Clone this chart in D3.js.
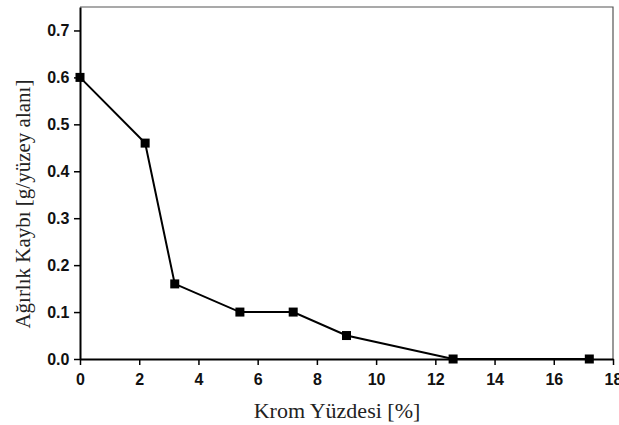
<!DOCTYPE html>
<html>
<head>
<meta charset="utf-8">
<script src="https://cdn.jsdelivr.net/npm/d3@7"></script>
<style>
  body { margin: 0; background: #fff; }
  .tick text { font-family: "Liberation Sans Narrow", "Liberation Sans", Arial, sans-serif; font-size: 16px; font-weight: bold; fill: #111; }
</style>
</head>
<body>
<div id="chart"></div>
<script>
// chrome content (%) vs weight loss
const chromePct = [0, 2.2, 3.2, 5.4, 7.2, 9.0, 12.6, 17.2];
const weightLoss = [0.60, 0.46, 0.16, 0.10, 0.10, 0.05, 0.0, 0.0];
const xTicks = [0, 2, 4, 6, 8, 10, 12, 14, 16, 18];
const yTicks = [0.0, 0.1, 0.2, 0.3, 0.4, 0.5, 0.6, 0.7];
const xLabel = "Krom Yüzdesi [%]";
const yLabel = "Ağırlık Kaybı [g/yüzey alanı]";

const width = 619, height = 425;
const margin = {top: 7, right: 6, bottom: 66, left: 80};

const svg = d3.select("#chart").append("svg")
  .attr("width", width)
  .attr("height", height);

const x = d3.scaleLinear().domain([0, 18]).range([margin.left, width - margin.right]);
const y = d3.scaleLinear().domain([0, 0.75]).range([height - margin.bottom, margin.top]);

// frame top/right
svg.append("path")
  .attr("d", "M" + x(0) + "," + y(0.75) + "H" + x(18) + "V" + y(0))
  .attr("fill", "none")
  .attr("stroke", "#555")
  .attr("stroke-width", 1.2);

const xAxis = svg.append("g")
  .attr("transform", "translate(0," + y(0) + ")")
  .call(d3.axisBottom(x).tickValues(xTicks).tickSize(6).tickSizeOuter(0).tickFormat(d3.format("d")));

const yAxis = svg.append("g")
  .attr("transform", "translate(" + x(0) + ",0)")
  .call(d3.axisLeft(y).tickValues(yTicks).tickSize(6).tickSizeOuter(0).tickFormat(d3.format(".1f")));

[xAxis, yAxis].forEach(function(g) {
  g.select(".domain").attr("stroke", "#000").attr("stroke-width", 2);
  g.selectAll(".tick line").attr("stroke", "#000").attr("stroke-width", 1.5);
});
xAxis.selectAll(".tick text").attr("dy", "1.05em");
yAxis.selectAll(".tick text").attr("dx", "-0.1em");

const pts = chromePct.map(function(d, i) { return [d, weightLoss[i]]; });

svg.append("path")
  .datum(pts)
  .attr("fill", "none")
  .attr("stroke", "#000")
  .attr("stroke-width", 2)
  .attr("d", d3.line().x(function(d) { return x(d[0]); }).y(function(d) { return y(d[1]); }));

const s = 9;
svg.selectAll("rect.pt")
  .data(pts)
  .enter()
  .append("rect")
  .attr("class", "pt")
  .attr("x", function(d) { return x(d[0]) - s / 2; })
  .attr("y", function(d) { return y(d[1]) - s / 2; })
  .attr("width", s)
  .attr("height", s)
  .attr("fill", "#000");

svg.append("text")
  .attr("x", 337)
  .attr("y", 418)
  .attr("text-anchor", "middle")
  .attr("font-family", "'Liberation Serif', 'Times New Roman', serif")
  .attr("font-size", 22)
  .attr("fill", "#222")
  .text(xLabel);

svg.append("text")
  .attr("transform", "translate(30," + y(0.33) + ") rotate(-90)")
  .attr("text-anchor", "middle")
  .attr("font-family", "'Liberation Serif', 'Times New Roman', serif")
  .attr("font-size", 21)
  .attr("fill", "#222")
  .text(yLabel);
</script>
</body>
</html>
